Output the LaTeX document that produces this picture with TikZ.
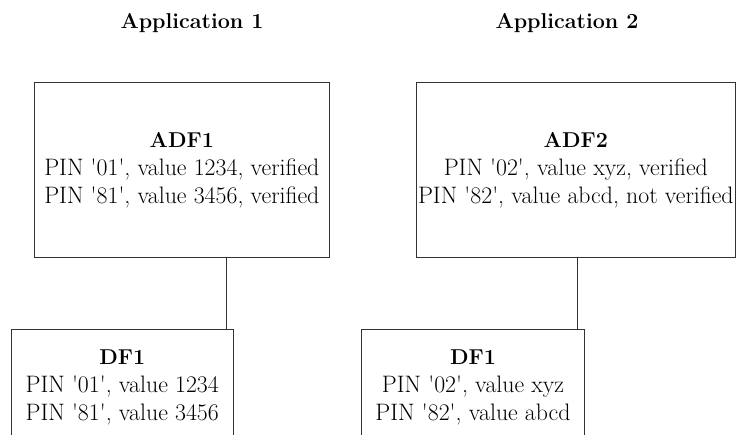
\documentclass[tikz,border=0pt]{standalone}
\usepackage{xcolor}
\usepackage{tikz}
\usetikzlibrary{positioning, calc}
\newcommand{\q}{\textquotesingle}
\newcommand{\hd}[1]{{\bfseries\fontsize{21.5}{28}\selectfont #1}}
\definecolor{text}{HTML}{000000}
\definecolor{edge}{HTML}{333333}

\begin{document}
\begin{tikzpicture}[x=1pt, y=-1pt,
    every node/.style={font=\fontsize{23.8}{28}\selectfont, text=text},
    adfbox/.style={draw=edge, line width=0.9pt, align=center, inner sep=0pt, minimum height=175pt},
    dfbox/.style={draw=edge, line width=0.9pt, align=center, anchor=north, minimum width=222.5pt, inner xsep=0pt, inner ysep=20pt},
    link/.style={draw=edge, line width=0.9pt}]
    \useasboundingbox (0,0) rectangle (737,435);
    \clip (0,0) rectangle (737,435);
    % application headings
    \node (app1) at (192,23) {\hd{Application 1}};
    \node (app2) at (567,23) {\hd{Application 2}};
    % ADFs
    \node[adfbox, minimum width=295pt] (adf1) at (181.8,169.8)
      {\hd{ADF1}\\PIN \q01\q, value 1234, verified\\PIN \q81\q, value 3456, verified};
    \node[adfbox, minimum width=318.3pt] (adf2) at (575.8,169.8)
      {\hd{ADF2}\\PIN \q02\q, value xyz, verified\\PIN \q82\q, value abcd, not verified};
    % DFs below (cut off at the bottom)
    \node[dfbox] (df1a) at (122.2,329.3)
      {\hd{DF1}\\PIN \q01\q, value 1234\\PIN \q81\q, value 3456};
    \node[dfbox] (df1b) at (473,329.3)
      {\hd{DF1}\\PIN \q02\q, value xyz\\PIN \q82\q, value abcd};
    % links
    \draw[link] ([xshift=44.2pt]adf1.south) -- ([xshift=44.2pt]adf1.south |- df1a.north);
    \draw[link] ([xshift=1.2pt]adf2.south) -- ([xshift=1.2pt]adf2.south |- df1b.north);
  \end{tikzpicture}
\end{document}
